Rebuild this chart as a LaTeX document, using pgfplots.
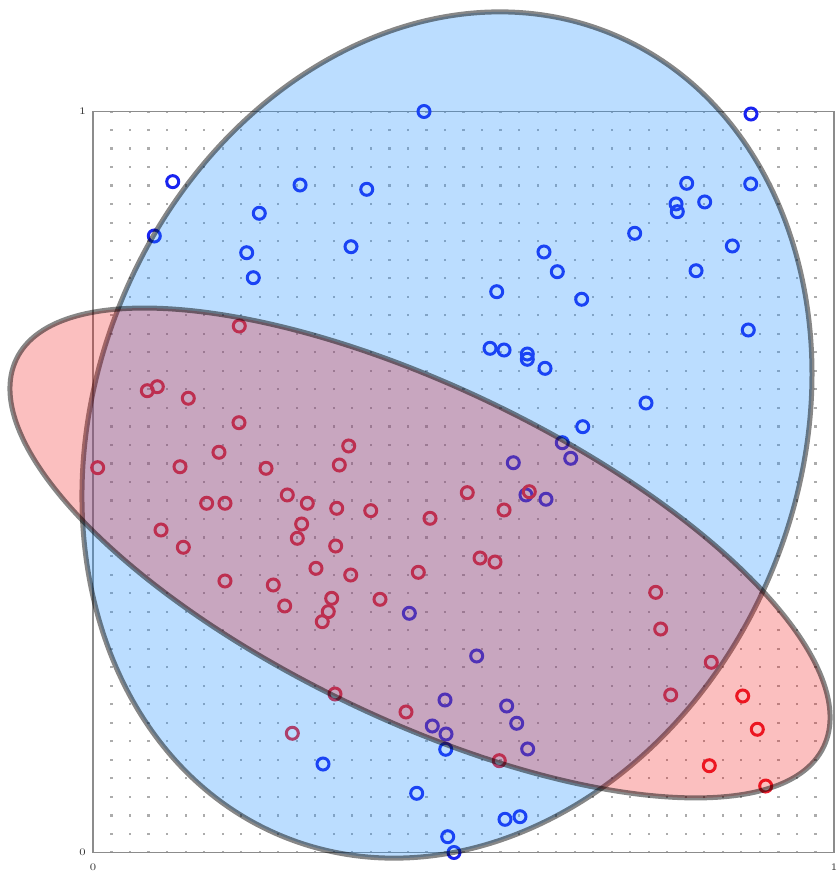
\documentclass[border=0pt]{standalone}
\usepackage{pgfplots}
\pgfplotsset{compat=1.18}
\usepackage{pgfplotstable}

\definecolor{ptblue}{RGB}{25,35,240}
\definecolor{ptred}{RGB}{235,30,45}
\definecolor{ellblue}{RGB}{30,144,255}
\definecolor{ellred}{RGB}{240,0,0}

% class A (blue)
\pgfplotstableread{
x y
0.4467 1.0000
0.8880 0.9966
0.1076 0.9053
0.2794 0.9008
0.3694 0.8950
0.8012 0.9031
0.8876 0.9022
0.2244 0.8626
0.7868 0.8752
0.7885 0.8648
0.8255 0.8779
0.0827 0.8320
0.7310 0.8356
0.2074 0.8094
0.3482 0.8175
0.6086 0.8104
0.8628 0.8185
0.2163 0.7757
0.6266 0.7838
0.8138 0.7851
0.5448 0.7568
0.6595 0.7466
0.8843 0.7051
0.5358 0.6804
0.5547 0.6781
0.5861 0.6727
0.5861 0.6656
0.6100 0.6534
0.7463 0.6066
0.6609 0.5746
0.6333 0.5530
0.6447 0.5320
0.5672 0.5260
0.5843 0.4825
0.6113 0.4767
0.4269 0.3228
0.5178 0.2652
0.4750 0.2058
0.5583 0.1977
0.5718 0.1744
0.4579 0.1707
0.4764 0.1599
0.4760 0.1393
0.5866 0.1397
0.3104 0.1194
0.4368 0.0799
0.5560 0.0448
0.5762 0.0483
0.4787 0.0213
0.4872 0.0000
}\bluepts

% class B (red)
\pgfplotstableread{
x y
0.1974 0.7105
0.0733 0.6232
0.0868 0.6286
0.1286 0.6130
0.1970 0.5800
0.3451 0.5486
0.0063 0.5193
0.1174 0.5206
0.1700 0.5401
0.2335 0.5185
0.3324 0.5229
0.5051 0.4856
0.5888 0.4869
0.1534 0.4713
0.1781 0.4713
0.2622 0.4825
0.2892 0.4713
0.3289 0.4645
0.3748 0.4613
0.4548 0.4510
0.5547 0.4622
0.2816 0.4433
0.0918 0.4352
0.2757 0.4240
0.1219 0.4119
0.3275 0.4136
0.5223 0.3974
0.5425 0.3920
0.3009 0.3835
0.4390 0.3781
0.3478 0.3745
0.1781 0.3664
0.2433 0.3610
0.3221 0.3430
0.3873 0.3417
0.2587 0.3327
0.3175 0.3250
0.3094 0.3115
0.7594 0.3511
0.7661 0.3016
0.8344 0.2567
0.3266 0.2139
0.7796 0.2126
0.8768 0.2112
0.4224 0.1896
0.8965 0.1663
0.2690 0.1609
0.5483 0.1239
0.8317 0.1171
0.9078 0.0897
}\redpts

\begin{document}
\begin{tikzpicture}
\begin{axis}[
  set layers=standard,
  scale only axis, width=370.5pt, height=370.5pt,
  xmin=0, xmax=1, ymin=0, ymax=1,
  xtick={0,1}, ytick={0,1},
  minor x tick num=39,
  xminorgrids=true,
  minor grid style={draw=gray!65, line width=1.1pt,
    dash pattern=on 1.1pt off 8.1625pt, dash phase=0.55pt},
  major tick length=0pt, minor tick length=0pt,
  axis line style={draw=gray!90, line width=0.8pt},
  tick label style={font=\fontsize{5.5}{6}\selectfont, text=black!80},
  xticklabel style={yshift=-2pt},
  clip=false,
]
\coordinate (sw) at (rel axis cs:0,0);
\coordinate (ne) at (rel axis cs:1,1);

\addplot[only marks, mark=o, mark size=3pt, draw=ptblue,
  mark options={line width=1.5pt}] table {\bluepts};
\addplot[only marks, mark=o, mark size=3pt, draw=ptred,
  mark options={line width=1.5pt}] table {\redpts};

% confidence regions of the two classes, laid over the points
\begin{pgfonlayer}{axis foreground}
\draw[draw=black, draw opacity=0.47, line width=2.5pt,
  fill=ellblue, fill opacity=0.3]
  (axis cs:0.4777,0.5634) ellipse [x radius=216.85pt, y radius=176.1pt, rotate=67.8];
\draw[draw=black, draw opacity=0.47, line width=2.5pt,
  fill=ellred, fill opacity=0.25]
  (axis cs:0.4413,0.4042) ellipse [x radius=223.9pt, y radius=83.05pt, rotate=-25.65];
\end{pgfonlayer}
\end{axis}
\pgfresetboundingbox
\path ([xshift=-46.5pt,yshift=-11.75pt]sw) rectangle ([xshift=2pt,yshift=55.75pt]ne);
\end{tikzpicture}
\end{document}
